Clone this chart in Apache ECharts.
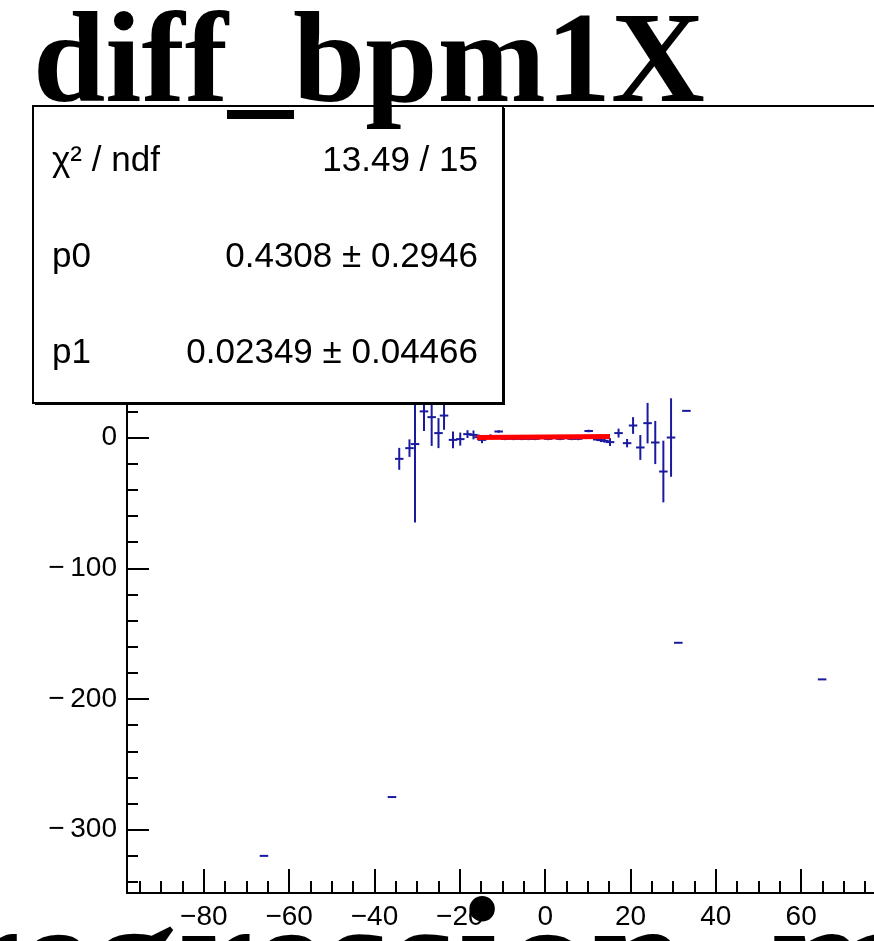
<!DOCTYPE html>
<html>
<head>
<meta charset="utf-8">
<script src="https://cdn.jsdelivr.net/npm/echarts@6/dist/echarts.min.js"></script>
<style>
  html, body { margin: 0; padding: 0; background: #fff; }
  #chart { width: 874px; height: 941px; }
</style>
</head>
<body>
<div id="chart"></div>
<script>
  // profile bins: centre, mean, error on the mean
  const binX = [-65.9, -35.9, -34.2, -31.8, -30.5, -28.4, -26.6, -25.0, -23.7, -21.6, -19.9, -18.2, -16.8, -15.6, -14.8,
                -12.8, -10.9, -9.4, -7.4, -5.5, -3.9, -2.3, 0.7, 3.5, 6.2, 7.7, 10.2, 12.2, 13.1, 13.9, 15.2,
                17.2, 19.2, 20.6, 22.3, 24.0, 25.8, 27.7, 29.5, 31.2, 33.1, 64.9]
  const binY = [-320, -275, -16.3, -8.1, -5, 20, 15.6, 3.4, 16.8, -1.8, -1.2, 2.6, 2.0, 0.3, -1.8,
                1, 4.6, -1, -1, -1, -1, -1, -1, -1, -1, -1, 5, -1.5, -2, -2.5, -3.5,
                3.4, -4.3, 9.2, -7.6, 11, -3.8, -26, 0, -157, 20.4, -185]
  const binErr = [0, 0, 8.4, 6.7, 60, 15, 22, 11.5, 10.9, 6.4, 5, 3, 3.4, 2, 2.5,
                  1.5, 1, 1, 1, 1, 1, 1, 1, 1, 1, 1, 1, 1, 1.5, 1.5, 3,
                  3.4, 3.2, 6.4, 9.5, 15.5, 16.5, 23.6, 30, 0, 0, 0]
  const binHalfWidth = 1.0

  // pol1 fit
  const fitP0 = 0.4308
  const fitP1 = 0.02349
  const fitRange = [-16, 15.2]

  const statsNames = ['\u03c7\u00b2 / ndf', 'p0', 'p1']
  const statsValues = ['13.49 / 15', '0.4308 \u00b1 0.2946', '0.02349 \u00b1 0.04466']

  const histTitle = 'diff_bpm1X'
  const xTitle = 'regression_method'

  const axisRangeX = [-98, 78]
  const axisRangeY = [-348.4, 253.6]

  const minusFmtY = v => (v < 0 ? '\u2212\u2009' + Math.abs(v) : String(v))
  const minusFmtX = v => (v < 0 ? '\u2212' + Math.abs(v) : String(v))

  const chart = echarts.init(document.getElementById('chart'))

  const errorBars = (params, api) => {
    const x = api.value(0), y = api.value(1), e = api.value(2)
    const l = api.coord([x - binHalfWidth, y])
    const r = api.coord([x + binHalfWidth, y])
    const t = api.coord([x, y + e])
    const b = api.coord([x, y - e])
    const st = { stroke: '#1a1aa0', lineWidth: 2 }
    return {
      type: 'group',
      children: [
        { type: 'line', shape: { x1: l[0], y1: l[1], x2: r[0], y2: r[1] }, style: st },
        { type: 'line', shape: { x1: t[0], y1: t[1], x2: b[0], y2: b[1] }, style: st }
      ]
    }
  }

  const axisFont = { fontSize: 28, color: '#000', fontFamily: 'Liberation Sans' }
  const black2 = { color: '#000', width: 2 }

  const statsText = []
  statsNames.forEach((name, i) => {
    statsText.push({
      type: 'text', x: 52, y: 161 + i * 96, z: 102,
      style: { text: name, font: '35px "Liberation Sans"', fill: '#000', textVerticalAlign: 'middle', verticalAlign: 'middle' }
    })
    statsText.push({
      type: 'text', x: 478, y: 161 + i * 96, z: 102,
      style: { text: statsValues[i], font: '35px "Liberation Sans"', fill: '#000', textAlign: 'right', align: 'right',
               textVerticalAlign: 'middle', verticalAlign: 'middle' }
    })
  })

  const option = {
    animation: false,
    backgroundColor: '#fff',
    grid: {
      left: 127, top: 106, width: 751, height: 787,
      show: true, borderColor: '#000', borderWidth: 2,
      outerBoundsMode: 'none'
    },
    xAxis: {
      type: 'value', min: axisRangeX[0], max: axisRangeX[1], splitNumber: 9,
      axisLine: { show: true, onZero: false, lineStyle: black2 },
      axisTick: { show: true, inside: true, length: 24, lineStyle: black2 },
      minorTick: { show: true, splitNumber: 4, length: 12, lineStyle: black2 },
      axisLabel: Object.assign({ formatter: minusFmtX, showMinLabel: false, showMaxLabel: false, margin: 10 }, axisFont),
      splitLine: { show: false }
    },
    yAxis: {
      type: 'value', min: axisRangeY[0], max: axisRangeY[1], splitNumber: 6,
      axisLine: { show: true, onZero: false, lineStyle: black2 },
      axisTick: { show: true, inside: true, length: 22, lineStyle: black2 },
      minorTick: { show: true, splitNumber: 5, length: 11, lineStyle: black2 },
      axisLabel: Object.assign({ formatter: minusFmtY, showMinLabel: false, showMaxLabel: false, margin: 10 }, axisFont),
      splitLine: { show: false }
    },
    series: [
      {
        type: 'custom',
        name: histTitle,
        data: binX.map((x, i) => [x, binY[i], binErr[i]]),
        renderItem: errorBars,
        encode: { x: 0, y: 1 },
        clip: true,
        z: 3
      },
      {
        type: 'line',
        name: 'fit',
        data: fitRange.map(x => [x, fitP0 + fitP1 * x]),
        symbol: 'none',
        lineStyle: { color: '#ff0000', width: 5 },
        silent: true,
        z: 4
      }
    ],
    graphic: [
      { type: 'rect', z: 100, shape: { x: 35, y: 108, width: 470, height: 297 }, style: { fill: '#000' } },
      { type: 'rect', z: 101, shape: { x: 33, y: 106, width: 470, height: 297 }, style: { fill: '#fff', stroke: '#000', lineWidth: 2 } },
      ...statsText,
      {
        type: 'text', x: 33, y: 67, z: 110,
        style: { text: histTitle, font: 'bold 130px "Liberation Serif"', fill: '#000', textVerticalAlign: 'middle', verticalAlign: 'middle' }
      },
      {
        type: 'text', x: -55, y: 970, z: 110,
        style: { text: xTitle, font: 'bold 170px "Liberation Serif"', fill: '#000', textVerticalAlign: 'middle', verticalAlign: 'middle' }
      }
    ]
  }

  chart.setOption(option)
</script>
</body>
</html>
